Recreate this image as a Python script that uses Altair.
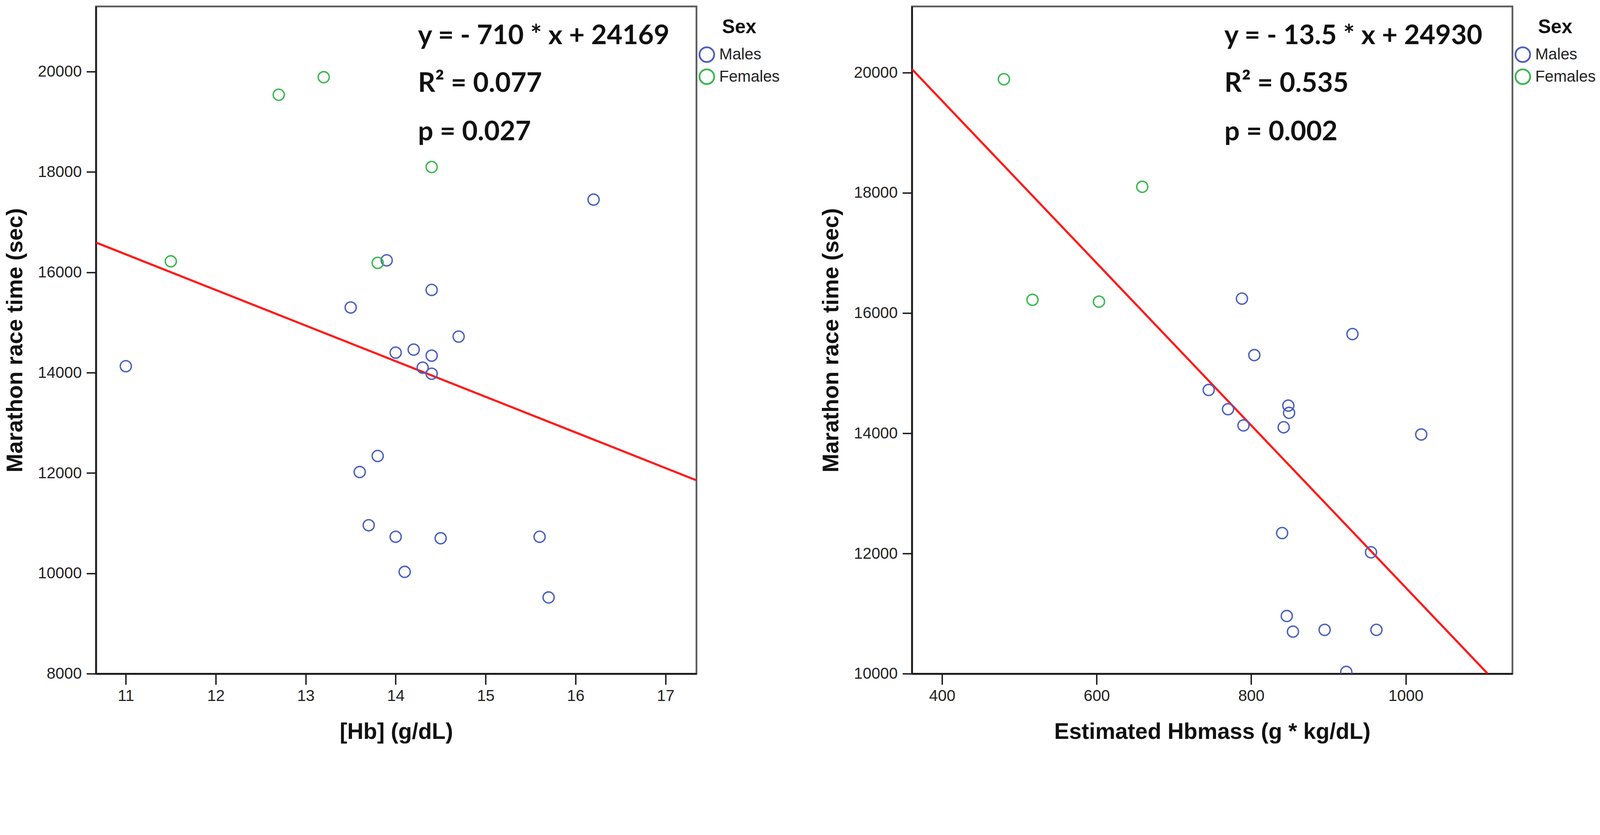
import altair as alt
import pandas as pd

# ---------------- data ----------------
# Left panel: [Hb] (g/dL) vs marathon race time (sec)
left_male_hb = [11.0, 13.5, 13.9, 14.4, 14.7, 14.0, 14.2, 14.4, 14.3, 14.4,
                13.6, 13.8, 13.7, 14.0, 14.1, 14.5, 15.6, 15.7, 16.2]
left_male_time = [14130, 15300, 16240, 15650, 14720, 14400, 14460, 14340, 14100, 13980,
                  12020, 12340, 10960, 10730, 10030, 10700, 10730, 9520, 17450]
left_female_hb = [12.7, 13.2, 11.5, 13.8, 14.4]
left_female_time = [19540, 19890, 16220, 16190, 18100]
left_fit_x = [10.67, 17.34]
left_fit_y = [16593, 11858]
left_stats = ["y = - 710 * x + 24169", "R\u00b2 = 0.077", "p = 0.027"]

# Right panel: Estimated Hbmass (g * kg/dL) vs marathon race time (sec)
right_male_hbm = [788, 931, 804, 745, 770, 790, 848, 849, 842, 1020,
                  840, 955, 846, 854, 895, 962, 923]
right_male_time = [16240, 15650, 15300, 14720, 14400, 14130, 14460, 14340, 14100, 13980,
                   12340, 12020, 10960, 10700, 10730, 10730, 10030]
right_female_hbm = [480, 659, 517, 603]
right_female_time = [19890, 18100, 16220, 16190]
right_fit_x = [361, 1106]
right_fit_y = [20057, 10000]
right_stats = ["y = - 13.5 * x + 24930", "R\u00b2 = 0.535", "p = 0.002"]

sex_levels = ["Males", "Females"]
sex_colors = ["#4a60c0", "#36b84c"]

left_x_ticks = [11, 12, 13, 14, 15, 16, 17]
left_y_ticks = [8000, 10000, 12000, 14000, 16000, 18000, 20000]
right_x_ticks = [400, 600, 800, 1000]
right_y_ticks = [10000, 12000, 14000, 16000, 18000, 20000]

W = 1714
H = 1904


def panel(mx, my, fx, fy, lx, ly, xdom, ydom, xticks, yticks, xtitle, stats, text_x, clip):
    pts = pd.DataFrame({
        "x": mx + fx,
        "y": my + fy,
        "Sex": [sex_levels[0]] * len(mx) + [sex_levels[1]] * len(fx),
    })
    fit = pd.DataFrame({"x": lx, "y": ly})

    xs = alt.Scale(domain=xdom, nice=False, zero=False)
    ys = alt.Scale(domain=ydom, nice=False, zero=False)

    points = alt.Chart(pts).mark_point(
        shape="circle", filled=False, size=1000, strokeWidth=4, opacity=1, clip=clip
    ).encode(
        x=alt.X("x:Q", scale=xs, title=xtitle,
                axis=alt.Axis(values=xticks, format="d")),
        y=alt.Y("y:Q", scale=ys, title="Marathon race time (sec)",
                axis=alt.Axis(values=yticks, format="d")),
        color=alt.Color(
            "Sex:N",
            scale=alt.Scale(domain=sex_levels, range=sex_colors),
            legend=alt.Legend(
                title="Sex", orient="none", legendX=W + 6, legendY=33,
                direction="vertical",
            ),
        ),
    )

    line = alt.Chart(fit).mark_line(color="#ff1a1a", strokeWidth=6, clip=True).encode(
        x=alt.X("x:Q", scale=xs),
        y=alt.Y("y:Q", scale=ys),
    )

    layers = [line, points]
    baselines = [108, 244, 382]
    for s, b in zip(stats, baselines):
        layers.append(
            alt.Chart(pd.DataFrame({"t": [s]})).mark_text(
                font="Lato", fontWeight="bold", fontSize=77, color="#111111",
                align="left", baseline="alphabetic",
            ).encode(text="t:N", x=alt.value(text_x), y=alt.value(b))
        )
    return alt.layer(*layers).properties(width=W, height=H)


left = panel(left_male_hb, left_male_time, left_female_hb, left_female_time,
             left_fit_x, left_fit_y, [10.668, 17.344], [8000, 21300],
             left_x_ticks, left_y_ticks, "[Hb] (g/dL)", left_stats, 919, False)

right = panel(right_male_hbm, right_male_time, right_female_hbm, right_female_time,
              right_fit_x, right_fit_y, [361, 1138], [10000, 21100],
              right_x_ticks, right_y_ticks, "Estimated Hbmass (g * kg/dL)", right_stats, 892, True)

chart = alt.hconcat(left, right, spacing=615, bounds="flush").resolve_scale(
    x="independent", y="independent", color="independent"
).resolve_legend(color="independent").properties(
    padding={"left": 0, "top": -103, "right": 0, "bottom": -100}
).configure_view(
    stroke="#5c5c5c", strokeWidth=5
).configure_axis(
    grid=False,
    domainColor="#1a1a1a", domainWidth=5,
    tickColor="#1a1a1a", tickWidth=4,
    labelFont="Liberation Sans", labelFontSize=45, labelColor="#222222",
    titleFont="Liberation Sans", titleFontSize=64, titleFontWeight="bold", titleColor="#111111",
).configure_axisX(
    tickSize=31, labelPadding=10, titlePadding=48,
).configure_axisY(
    tickSize=27, labelPadding=14, titlePadding=32,
).configure_legend(
    titleFont="Liberation Sans", titleFontSize=55, titleFontWeight="bold", titleColor="#111111",
    titleAlign="center", titleAnchor="middle", titlePadding=26,
    labelFont="Liberation Sans", labelFontSize=45, labelColor="#222222", labelOffset=12,
    labelLimit=500,
    symbolType="circle", symbolSize=1764, symbolStrokeWidth=5, rowPadding=0,
    padding=0,
)

chart.save("out.html", embed_options={"renderer": "svg", "actions": False})
